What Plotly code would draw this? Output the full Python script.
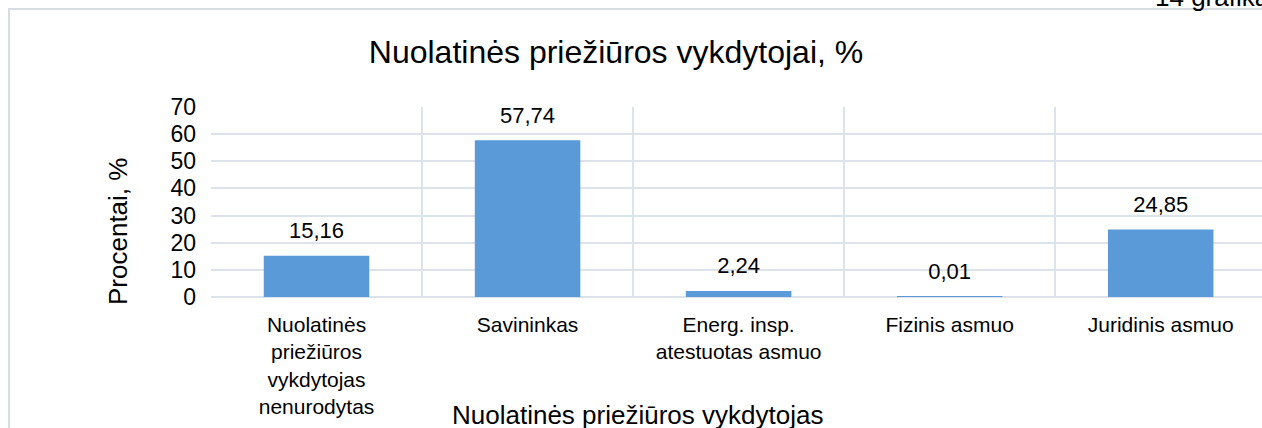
import plotly.graph_objects as go

# duomenys
categories = [
    "Nuolatinės<br>priežiūros<br>vykdytojas<br>nenurodytas",
    "Savininkas",
    "Energ. insp.<br>atestuotas asmuo",
    "Fizinis asmuo",
    "Juridinis asmuo",
]
percent = [15.16, 57.74, 2.24, 0.01, 24.85]
y_ticks = [0, 10, 20, 30, 40, 50, 60, 70]

font = "Liberation Sans, Arial, sans-serif"
grid = "#dde3ea"

# plot area: x 211..1262, y 107..297 px
def px_x(p):
    return (p - 211) / 1051

def px_y(p):
    return (297 - p) / 190

fig = go.Figure()
fig.add_bar(
    x=categories,
    y=percent,
    width=0.5,
    marker=dict(color="#5a9ad8", line=dict(width=0)),
    hoverinfo="x+y",
)
# reikšmių žymės virš stulpelių
fig.add_scatter(
    x=categories,
    y=percent,
    mode="markers+text",
    marker=dict(size=18, opacity=0),
    text=[f"{v:.2f}".replace(".", ",") for v in percent],
    textposition="top center",
    textfont=dict(size=22, color="#000000", family=font),
    cliponaxis=False,
    hoverinfo="skip",
)

fig.update_layout(
    width=1262,
    height=428,
    margin=dict(l=211, r=0, t=107, b=131),
    paper_bgcolor="white",
    plot_bgcolor="white",
    separators=",.",
    showlegend=False,
    font=dict(family=font, color="#000000"),
    title=dict(
        text="Nuolatinės priežiūros vykdytojai, %",
        x=616 / 1262, xanchor="center",
        y=1 - 52 / 428, yanchor="middle",
        font=dict(size=32, family=font, color="#000000"),
    ),
    bargap=0.5,
)

fig.update_xaxes(
    type="category",
    range=[-0.5, 4.48],
    tickson="boundaries",
    showgrid=True,
    gridcolor=grid,
    gridwidth=2,
    ticks="",
    showline=False,
    ticklabelstandoff=13,
    tickfont=dict(size=21, family=font, color="#000000"),
)

fig.update_yaxes(
    range=[0, 70],
    tickvals=y_ticks,
    showgrid=True,
    gridcolor=grid,
    gridwidth=2,
    zeroline=True,
    zerolinecolor=grid,
    zerolinewidth=2,
    ticks="",
    ticklabelstandoff=14,
    tickfont=dict(size=23, family=font, color="#000000"),
)

# ašių pavadinimai
fig.add_annotation(
    text="Nuolatinės priežiūros vykdytojas",
    xref="paper", yref="paper",
    x=px_x(637), xanchor="center",
    y=px_y(415), yanchor="middle",
    showarrow=False,
    font=dict(size=26, family=font, color="#000000"),
)
fig.add_annotation(
    text="Procentai, %",
    xref="paper", yref="paper",
    x=px_x(118), xanchor="center",
    y=px_y(232), yanchor="middle",
    textangle=-90,
    showarrow=False,
    font=dict(size=26, family=font, color="#000000"),
)

# rėmelis aplink diagramą
fig.add_shape(
    type="rect", xref="paper", yref="paper",
    x0=px_x(9), x1=1.2,
    y0=-1.0, y1=px_y(9),
    line=dict(color="#d9dde3", width=2),
    fillcolor="rgba(0,0,0,0)",
    layer="below",
)

fig.add_annotation(
    text="14 grafikas",
    xref="paper", yref="paper",
    x=px_x(1153), xanchor="left",
    y=px_y(14), yanchor="bottom",
    showarrow=False,
    font=dict(size=26, family=font, color="#000000"),
)

fig.write_html(
    "out.html",
    config={"displayModeBar": False},
    post_script="document.body.style.margin='0';document.body.style.overflow='hidden';",
)
